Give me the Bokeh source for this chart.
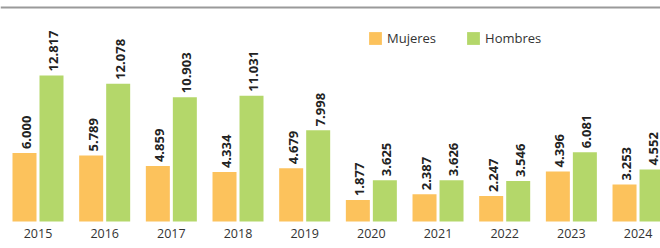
import math
from bokeh.plotting import figure
from bokeh.models import ColumnDataSource, Range1d, Span
from bokeh.core.properties import value
from bokeh.embed import file_html
from bokeh.resources import INLINE

years = ["2015", "2016", "2017", "2018", "2019", "2020", "2021", "2022", "2023", "2024"]
mujeres = [6000, 5789, 4859, 4334, 4679, 1877, 2387, 2247, 4396, 3253]
hombres = [12817, 12078, 10903, 11031, 7998, 3625, 3626, 3546, 6081, 4552]

ORANGE = "#FCC25C"
GREEN = "#B4D76A"
FONT = "Open Sans"

def fmt(v):
    return f"{v:,}".replace(",", ".")

idx = list(range(len(years)))
off = 0.2025
bw = 0.36

src = ColumnDataSource(dict(
    x=idx,
    xm=[i - off for i in idx],
    xh=[i + off for i in idx],
    year=years,
    m=mujeres,
    h=hombres,
    mt=[fmt(v) for v in mujeres],
    ht=[fmt(v) for v in hombres],
    zero=[0] * len(idx),
))

y_end = 19386
y_start = -2368
p = figure(width=660, height=248, output_backend="svg", toolbar_location=None,
           x_range=Range1d(-0.5625, 9.337), y_range=Range1d(y_start, y_end),
           min_border=0, min_border_left=0, min_border_right=0,
           min_border_top=0, min_border_bottom=0)
p.axis.visible = False
p.grid.visible = False
p.outline_line_color = None
p.background_fill_color = "white"
p.border_fill_color = "white"

p.vbar(x="xm", top="m", width=bw, bottom=0, source=src, fill_color=ORANGE,
       line_color=None, legend_label="Mujeres")
p.vbar(x="xh", top="h", width=bw, bottom=0, source=src, fill_color=GREEN,
       line_color=None, legend_label="Hombres")

common = dict(angle=math.pi / 2, text_align="left", text_baseline="middle",
              text_font=value(FONT), text_font_size="13px", text_font_style="bold",
              text_color="#222222", y_offset=-4, x_offset=2)
p.text(x="xm", y="m", text="mt", source=src, **common)
p.text(x="xh", y="h", text="ht", source=src, **common)

p.text(x="x", y="zero", text="year", source=src, text_align="center",
       text_baseline="middle", text_font=value(FONT), text_font_size="12.5px",
       text_color="#333333", y_offset=12)

p.add_layout(Span(location=y_end - 614, dimension="width", line_color="#9a9a9a",
                  line_width=2))

lg = p.legend[0]
lg.orientation = "horizontal"
lg.location = (367, 201)
lg.background_fill_alpha = 0
lg.border_line_color = None
lg.label_text_font = FONT
lg.label_text_font_size = "13px"
lg.label_text_color = "#333333"
lg.glyph_width = 16
lg.glyph_height = 16
lg.spacing = 29
lg.padding = 0
lg.margin = 0
lg.label_standoff = 4

open("out.html", "w").write(file_html(p, INLINE))
